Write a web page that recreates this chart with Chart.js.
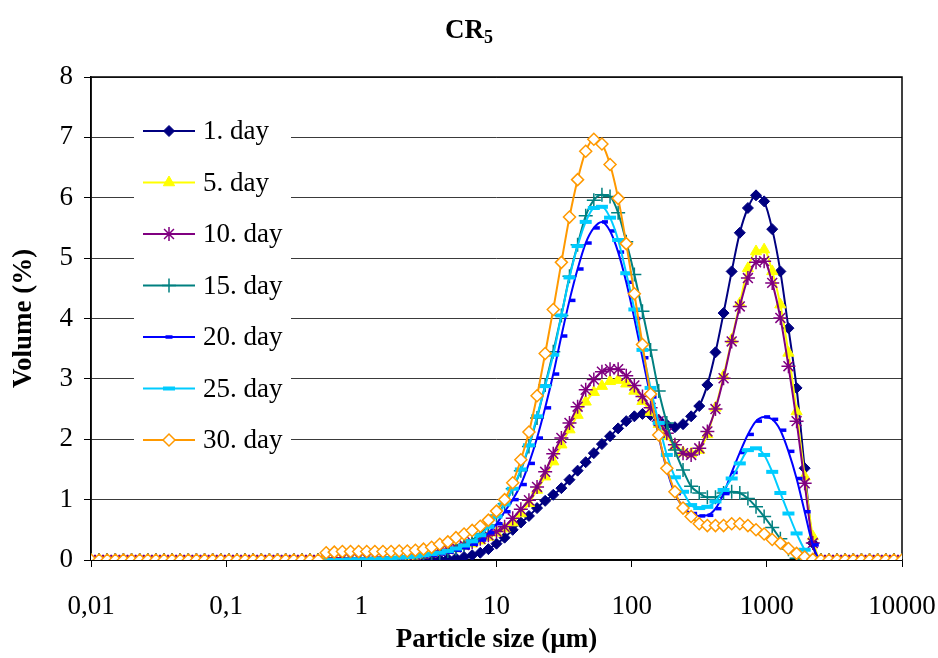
<!DOCTYPE html>
<html><head><meta charset="utf-8">
<script src="https://cdn.jsdelivr.net/npm/chart.js@4.4.1/dist/chart.umd.min.js"></script>
<style>
html,body{margin:0;padding:0;background:#fff;}
#wrap{position:relative;width:938px;height:658px;overflow:hidden;}
canvas{position:absolute;left:0;top:0;}
#title{position:absolute;left:0;top:13px;width:938px;text-align:center;font:bold 27px "Liberation Serif","Times New Roman",serif;color:#000;line-height:32px;}
#title sub{font-size:18px;line-height:0;vertical-align:-5px;}
</style></head><body>
<div id="wrap"><canvas id="c" width="938" height="658"></canvas><div id="title">CR<sub>5</sub></div></div>
<script>
// Particle size classes (µm)
const SIZES = [
 0.01,0.01148,0.01318,0.01514,0.01738,0.01995,0.02291,0.0263,0.0302,0.03467,
 0.03981,0.04571,0.05248,0.06026,0.06918,0.07943,0.0912,0.1047,0.1202,0.138,
 0.1585,0.182,0.2089,0.2399,0.2754,0.3162,0.3631,0.4169,0.4786,0.5495,
 0.631,0.7244,0.8318,0.955,1.096,1.259,1.445,1.66,1.905,2.188,
 2.512,2.884,3.311,3.802,4.365,5.012,5.754,6.607,7.586,8.71,
 10,11.48,13.18,15.14,17.38,19.95,22.91,26.3,30.2,34.67,
 39.81,45.71,52.48,60.26,69.18,79.43,91.2,104.7,120.2,138,
 158.5,182,208.9,239.9,275.4,316.2,363.1,416.9,478.6,549.5,
 631,724.4,831.8,955,1096,1259,1445,1660,1905,2188,
 2512,2884,3311,3802,4365,5012,5754,6607,7586,8710,
 10000];
const X_TICKS = [0.01,0.1,1,10,100,1000,10000];
const X_TICK_LABELS = ['0,01','0,1','1','10','100','1000','10000'];
const SERIES_NAMES = ['1. day','5. day','10. day','15. day','20. day','25. day','30. day'];

const DAY1 = [
 0,0,0,0,0,0,0,0,0,0,
 0,0,0,0,0,0,0,0,0,0,
 0,0,0,0,0,0,0,0,0,0,
 0,0,0,0,0,0,0,0,0,0,
 0,0,0,0.01,0.02,0.03,0.05,0.08,0.12,0.18,
 0.27,0.37,0.5,0.62,0.73,0.86,0.98,1.08,1.19,1.33,
 1.48,1.62,1.77,1.92,2.05,2.18,2.3,2.38,2.42,2.4,
 2.32,2.24,2.2,2.25,2.38,2.55,2.9,3.44,4.09,4.78,
 5.42,5.83,6.04,5.94,5.48,4.78,3.84,2.85,1.52,0.28,
 0,0,0,0,0,0,0,0,0,0,
 0];
const DAY5 = [
 0,0,0,0,0,0,0,0,0,0,
 0,0,0,0,0,0,0,0,0,0,
 0,0,0,0,0,0,0,0,0,0.02,
 0.03,0.03,0.03,0.03,0.03,0.03,0.04,0.04,0.05,0.06,
 0.07,0.09,0.11,0.13,0.16,0.19,0.23,0.27,0.32,0.38,
 0.45,0.52,0.62,0.77,0.94,1.16,1.38,1.63,1.91,2.16,
 2.4,2.62,2.78,2.88,2.96,2.98,2.92,2.8,2.63,2.45,
 2.25,2.05,1.88,1.78,1.76,1.82,2.08,2.52,3.05,3.65,
 4.25,4.83,5.11,5.14,4.78,4.23,3.43,2.46,1.38,0.39,
 0,0,0,0,0,0,0,0,0,0,
 0];
const DAY10 = [
 0,0,0,0,0,0,0,0,0,0,
 0,0,0,0,0,0,0,0,0,0,
 0,0,0,0,0,0,0,0,0,0.02,
 0.03,0.03,0.03,0.03,0.03,0.04,0.04,0.05,0.05,0.06,
 0.08,0.1,0.12,0.15,0.18,0.21,0.25,0.3,0.35,0.41,
 0.47,0.55,0.69,0.84,0.99,1.21,1.46,1.76,2.02,2.27,
 2.54,2.82,2.99,3.12,3.16,3.16,3.05,2.89,2.71,2.52,
 2.3,2.1,1.91,1.77,1.74,1.85,2.13,2.5,3.01,3.62,
 4.2,4.67,4.93,4.95,4.59,4.01,3.21,2.3,1.27,0.28,
 0,0,0,0,0,0,0,0,0,0,
 0];
const DAY15 = [
 0,0,0,0,0,0,0,0,0,0,
 0,0,0,0,0,0,0,0,0,0,
 0,0,0,0,0,0,0,0,0,0,
 0,0,0.01,0.01,0.01,0.02,0.02,0.03,0.04,0.05,
 0.06,0.07,0.09,0.12,0.15,0.19,0.25,0.33,0.44,0.58,
 0.74,0.93,1.18,1.48,1.88,2.35,2.9,3.45,4.05,4.7,
 5.22,5.7,5.96,6.05,6.02,5.75,5.27,4.73,4.12,3.48,
 2.8,2.27,1.82,1.49,1.22,1.11,1.04,1.04,1.11,1.13,
 1.11,1.02,0.88,0.72,0.54,0.35,0.18,0.03,0,0,
 0,0,0,0,0,0,0,0,0,0,
 0];
const DAY20 = [
 0,0,0,0,0,0,0,0,0,0,
 0,0,0,0,0,0,0,0,0,0,
 0,0,0,0,0,0,0,0,0,0,
 0,0,0.01,0.01,0.01,0.02,0.02,0.03,0.04,0.05,
 0.06,0.07,0.08,0.1,0.13,0.16,0.2,0.26,0.33,0.45,
 0.6,0.8,1.0,1.25,1.6,2.02,2.52,3.08,3.71,4.3,
 4.82,5.25,5.5,5.6,5.45,5.1,4.6,4.0,3.35,2.7,
 2.05,1.5,1.1,0.88,0.77,0.73,0.74,0.85,1.1,1.45,
 1.78,2.08,2.3,2.37,2.33,2.15,1.8,1.35,0.8,0.25,
 0,0,0,0,0,0,0,0,0,0,
 0];
const DAY25 = [
 0,0,0,0,0,0,0,0,0,0,
 0,0,0,0,0,0,0,0,0,0,
 0,0,0,0,0,0,0,0,0,0,
 0,0,0.01,0.01,0.01,0.02,0.02,0.03,0.04,0.05,
 0.06,0.08,0.1,0.12,0.15,0.19,0.24,0.31,0.41,0.55,
 0.72,0.92,1.18,1.5,1.9,2.38,2.88,3.4,4.05,4.68,
 5.2,5.6,5.83,5.85,5.67,5.3,4.75,4.15,3.48,2.85,
 2.27,1.74,1.37,1.13,0.91,0.86,0.88,0.97,1.16,1.35,
 1.6,1.82,1.85,1.74,1.46,1.11,0.77,0.44,0.17,0.02,
 0,0,0,0,0,0,0,0,0,0,
 0];
const DAY30 = [
 0,0,0,0,0,0,0,0,0,0,
 0,0,0,0,0,0,0,0,0,0,
 0,0,0,0,0,0,0,0,0,0.12,
 0.13,0.14,0.14,0.14,0.14,0.14,0.14,0.14,0.15,0.15,
 0.16,0.18,0.21,0.26,0.3,0.37,0.43,0.49,0.56,0.66,
 0.81,1.0,1.28,1.66,2.12,2.72,3.42,4.15,4.93,5.68,
 6.3,6.77,6.97,6.89,6.55,5.99,5.24,4.41,3.57,2.75,
 2.07,1.52,1.13,0.86,0.72,0.6,0.57,0.57,0.57,0.6,
 0.6,0.57,0.5,0.43,0.34,0.28,0.19,0.11,0.05,0.01,
 0,0,0,0,0,0,0,0,0,0,
 0];

const SERIES = [DAY1, DAY5, DAY10, DAY15, DAY20, DAY25, DAY30];
const COLORS = ['#000080','#FFFF00','#800080','#008080','#0000FF','#00CCFF','#FF9900'];
const STYLES = [
  {pointStyle:'rectRot', radius:5.5, bg:'#000080', bw:1, legendStyle:'rectRot'},
  {pointStyle:'triangle', radius:6.5, bg:'#FFFF00', bw:1, legendStyle:'triangle'},
  {pointStyle:'star', radius:7, bg:'#800080', bw:1.5, legendStyle:'star'},
  {pointStyle:'cross', radius:7, bg:'#008080', bw:1.5, legendStyle:'cross'},
  {pointStyle:'dash', radius:6, bg:'#0000FF', bw:3.5, legendStyle:'line', legendRadius:3.5},
  {pointStyle:'line', radius:6, bg:'#00CCFF', bw:4, legendStyle:'line'},
  {pointStyle:'rectRot', radius:6, bg:'#FFFFFF', bw:1.5, legendStyle:'rectRot'}
];
const FONT = '"Liberation Serif","Times New Roman",serif';

const datasets = SERIES.map((vals, i) => ({
  label: SERIES_NAMES[i],
  data: SIZES.map((x, j) => ({x: x, y: vals[j]})),
  borderColor: COLORS[i],
  backgroundColor: COLORS[i],
  borderWidth: 2,
  pointStyle: STYLES[i].pointStyle,
  pointRadius: STYLES[i].radius,
  pointBackgroundColor: STYLES[i].bg,
  pointBorderColor: COLORS[i],
  pointBorderWidth: STYLES[i].bw,
  cubicInterpolationMode: 'monotone',
  order: 6 - i
}));

const frame = {
  id: 'frame',
  beforeDatasetsDraw(chart) {
    const a = chart.chartArea, ctx = chart.ctx;
    ctx.save();
    ctx.strokeStyle = '#000'; ctx.lineWidth = 1.5;
    ctx.strokeRect(a.left, a.top, a.right - a.left, a.bottom - a.top);
    ctx.restore();
  }
};

function marker(ctx, st, r, x, y, bw) {
  if (Chart.helpers && Chart.helpers.drawPoint) {
    Chart.helpers.drawPoint(ctx, {pointStyle: st, radius: r, rotation: 0, borderWidth: bw}, x, y);
  }
}

const insideLegend = {
  id: 'insideLegend',
  afterDraw(chart) {
    const ctx = chart.ctx;
    ctx.save();
    ctx.fillStyle = '#fff';
    ctx.fillRect(134, 106, 157, 358);
    SERIES_NAMES.forEach((name, i) => {
      const y = 131 + i * 51.5;
      ctx.strokeStyle = COLORS[i]; ctx.lineWidth = 2;
      ctx.beginPath(); ctx.moveTo(143, y); ctx.lineTo(195, y); ctx.stroke();
      ctx.fillStyle = STYLES[i].bg; ctx.strokeStyle = COLORS[i]; ctx.lineWidth = STYLES[i].bw;
      marker(ctx, STYLES[i].legendStyle, STYLES[i].legendRadius || STYLES[i].radius, 169, y, STYLES[i].bw);
      ctx.fillStyle = '#000';
      ctx.font = '27px ' + FONT;
      ctx.textAlign = 'left'; ctx.textBaseline = 'middle';
      ctx.fillText(name, 203, y + 1);
    });
    ctx.restore();
  }
};

new Chart(document.getElementById('c'), {
  type: 'line',
  data: { datasets: datasets },
  plugins: [frame, insideLegend],
  options: {
    responsive: false,
    animation: false,
    devicePixelRatio: 1,
    layout: { padding: { left: 0, right: 36, top: 77, bottom: 0 } },
    plugins: { legend: { display: false }, tooltip: { enabled: false }, title: { display: false } },
    scales: {
      x: {
        type: 'logarithmic', min: 0.01, max: 10000,
        afterBuildTicks(s) { s.ticks = X_TICKS.map(v => ({value: v})); },
        afterFit(s) { s.height = 98; s.paddingLeft = 0; s.paddingRight = 0; },
        ticks: { autoSkip: false, maxRotation: 0, color: '#000', padding: 24,
                 font: { family: FONT, size: 27 },
                 callback: (v, i) => X_TICK_LABELS[i] },
        grid: { drawOnChartArea: false, drawTicks: true, tickLength: 7, tickColor: '#000', color: '#000' },
        border: { color: '#000', width: 1.5 },
        title: { display: true, text: 'Particle size (µm)', color: '#000',
                 font: { family: FONT, size: 27, weight: 'bold' }, padding: { top: 0, bottom: 2 } }
      },
      y: {
        min: 0, max: 8,
        afterFit(s) { s.width = 91; s.paddingTop = 0; s.paddingBottom = 0; },
        ticks: { stepSize: 1, color: '#000', padding: 11, font: { family: FONT, size: 27 } },
        grid: { color: '#3a3a3a', lineWidth: 1, tickLength: 7, tickColor: '#000' },
        border: { color: '#000', width: 1.5 },
        title: { display: true, text: 'Volume (%)', color: '#000',
                 font: { family: FONT, size: 27, weight: 'bold' }, padding: { top: 8, bottom: 0 } }
      }
    }
  }
});
</script>
</body></html>
